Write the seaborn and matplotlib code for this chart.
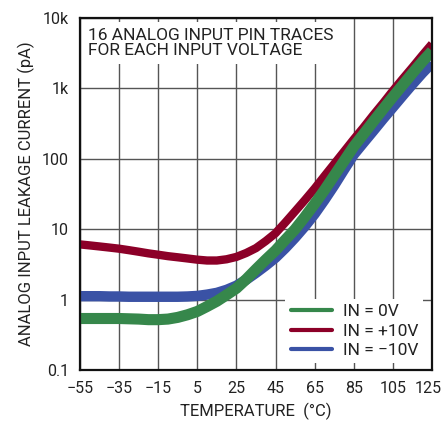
import matplotlib
matplotlib.use("Agg")
import matplotlib.pyplot as plt
import matplotlib.transforms as mtransforms
import seaborn as sns
import pandas as pd
from matplotlib.lines import Line2D

temps = [-55, -50, -45, -40, -35, -30, -25, -20, -15, -10, -5, 0, 5, 10, 15, 20, 25, 30,
         35, 40, 45, 50, 55, 60, 65, 70, 75, 80, 85, 90, 95, 100, 105, 110, 115, 120, 125]
in_0v = [0.54, 0.54, 0.54, 0.54, 0.54, 0.535, 0.53, 0.52, 0.52, 0.53, 0.56, 0.61, 0.68, 0.8,
         0.95, 1.17, 1.45, 1.95, 2.7, 3.7, 5.0, 7.1, 10, 15, 23, 36, 58, 93, 150, 225, 340,
         510, 760, 1120, 1650, 2400, 3400]
in_p10v = [6.1, 5.9, 5.7, 5.5, 5.3, 5.05, 4.8, 4.55, 4.35, 4.15, 4.0, 3.85, 3.7, 3.6, 3.6,
           3.75, 4.05, 4.6, 5.4, 6.8, 8.8, 12.5, 18, 26, 38, 57, 85, 127, 190, 280, 420, 620,
           930, 1370, 2000, 2950, 4300]
in_m10v = [1.12, 1.12, 1.12, 1.11, 1.11, 1.1, 1.1, 1.1, 1.1, 1.1, 1.1, 1.11, 1.13, 1.18, 1.25,
           1.38, 1.58, 1.92, 2.4, 3.05, 3.95, 5.4, 7.6, 11, 16.5, 26, 42, 70, 115, 170, 250,
           370, 540, 790, 1150, 1650, 2300]

series_labels = ["IN = 0V", "IN = +10V", "IN = \u221210V"]
x_ticks = [-55, -35, -15, 5, 25, 45, 65, 85, 105, 125]
x_tick_labels = ["\u221255", "\u221235", "\u221215", "5", "25", "45", "65", "85", "105", "125"]
y_ticks = [0.1, 1, 10, 100, 1000, 10000]
y_tick_labels = ["0.1", "1", "10", "100", "1k", "10k"]

sns.set_theme(style="white")
plt.rcParams["font.family"] = ["Roboto", "DejaVu Sans"]

colors = {"IN = 0V": "#36874b", "IN = +10V": "#8c0028", "IN = \u221210V": "#3a52a5"}
widths = {"IN = 0V": 8.0, "IN = +10V": 6.0, "IN = \u221210V": 7.5}

fig = plt.figure(figsize=(4.44, 4.21), dpi=100)
ax = fig.add_axes([0.180, 0.121, 0.793, 0.836])

frames = {
    "IN = 0V": pd.DataFrame({"T": temps, "I": in_0v}),
    "IN = +10V": pd.DataFrame({"T": temps, "I": in_p10v}),
    "IN = \u221210V": pd.DataFrame({"T": temps, "I": in_m10v}),
}
for name, z in [("IN = \u221210V", 3), ("IN = +10V", 4), ("IN = 0V", 5)]:
    sns.lineplot(data=frames[name], x="T", y="I", ax=ax, color=colors[name],
                 linewidth=widths[name], solid_capstyle="butt", solid_joinstyle="round",
                 zorder=z, legend=False)

ax.set_yscale("log")
ax.set_xlim(-55, 125)
ax.set_ylim(0.1, 10000)
ax.set_xticks(x_ticks)
ax.set_xticklabels(x_tick_labels)
ax.set_yticks(y_ticks)
ax.set_yticklabels(y_tick_labels)
ax.minorticks_off()
ax.tick_params(axis="both", length=0, labelsize=11.5, colors="#222222")
ax.tick_params(axis="x", pad=8)
ax.tick_params(axis="y", pad=8)
ax.grid(True, which="major", color="#555555", linewidth=1.0, zorder=0)
ax.set_axisbelow(True)
for sp in ax.spines.values():
    sp.set_color("#111111")
    sp.set_linewidth(1.6)
    sp.set_zorder(10)

# nudge the last x tick label slightly left so it stays inside the figure
last_lbl = ax.get_xticklabels()[-1]
last_lbl.set_transform(last_lbl.get_transform() +
                       mtransforms.ScaledTranslation(-3 / 72, 0, fig.dpi_scale_trans))

ax.set_xlabel("TEMPERATURE  (\u00b0C)", fontsize=12, color="#222222", labelpad=5)
ax.set_ylabel("ANALOG INPUT LEAKAGE CURRENT (pA)", fontsize=12, color="#222222", labelpad=5)

ax.text(0.022, 0.972, "16 ANALOG INPUT PIN TRACES\nFOR EACH INPUT VOLTAGE",
        transform=ax.transAxes, ha="left", va="top", fontsize=12.5, color="#222222",
        linespacing=1.0, zorder=8,
        bbox=dict(boxstyle="square,pad=0.35", facecolor="white", edgecolor="none"))

handles = [Line2D([0], [0], color=colors[n], linewidth=3) for n in series_labels]
leg = ax.legend(handles, series_labels, loc="lower right", bbox_to_anchor=(1.0, -0.006),
                frameon=True, fontsize=12.5, handlelength=2.4, handletextpad=0.6,
                labelspacing=0.25, borderpad=0.3, fancybox=False)
leg.get_frame().set_facecolor("white")
leg.get_frame().set_edgecolor("none")
leg.get_frame().set_alpha(1.0)
leg.set_zorder(9)
for t in leg.get_texts():
    t.set_color("#222222")

fig.savefig("out.png", dpi=100)
